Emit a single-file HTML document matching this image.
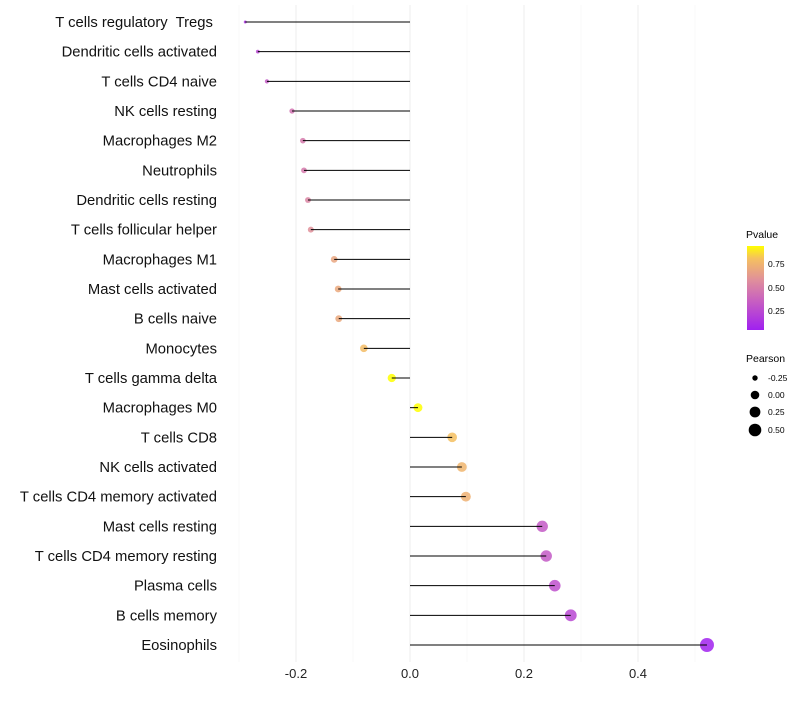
<!DOCTYPE html>
<html><head><meta charset="utf-8"><style>
body{margin:0;background:#fff;font-family:"Liberation Sans",sans-serif}
text{white-space:pre}
</style></head><body>
<svg id="chart" width="800" height="700" xmlns="http://www.w3.org/2000/svg">
<defs><linearGradient id="pg" x1="0" y1="1" x2="0" y2="0">
<stop offset="0" stop-color="#a020f0"/><stop offset="0.35" stop-color="#c860c0"/><stop offset="0.6" stop-color="#e0909a"/><stop offset="0.85" stop-color="#f5c060"/><stop offset="1" stop-color="#ffff00"/></linearGradient></defs>
<g id="grid"></g><g id="points"></g><g id="stems"></g><g id="labels"></g>
<g font-size="10">
<text x="746" y="238" font-size="10.5" fill="#000">Pvalue</text>
<rect x="747" y="246" width="17" height="84" fill="url(#pg)"/>
<text x="768" y="267" font-size="8.5">0.75</text>
<text x="768" y="291" font-size="8.5">0.50</text>
<text x="768" y="314" font-size="8.5">0.25</text>
<text x="746" y="362" font-size="10.5">Pearson</text>
<circle cx="755" cy="378" r="2.7"/><text x="768" y="381" font-size="8.5">-0.25</text>
<circle cx="755" cy="395" r="4.3"/><text x="768" y="398" font-size="8.5">0.00</text>
<circle cx="755" cy="412" r="5.4"/><text x="768" y="415" font-size="8.5">0.25</text>
<circle cx="755" cy="430" r="6.3"/><text x="768" y="433" font-size="8.5">0.50</text>
</g>
</svg>
<script>
const categories=["T cells regulatory  Tregs ","Dendritic cells activated","T cells CD4 naive","NK cells resting","Macrophages M2","Neutrophils","Dendritic cells resting","T cells follicular helper","Macrophages M1","Mast cells activated","B cells naive","Monocytes","T cells gamma delta","Macrophages M0","T cells CD8","NK cells activated","T cells CD4 memory activated","Mast cells resting","T cells CD4 memory resting","Plasma cells","B cells memory","Eosinophils"];
const pearson=[-0.289,-0.267,-0.251,-0.207,-0.188,-0.186,-0.179,-0.174,-0.133,-0.126,-0.125,-0.081,-0.032,0.014,0.074,0.091,0.098,0.232,0.239,0.254,0.282,0.521];
const pvalues=[0.12,0.22,0.3,0.42,0.45,0.45,0.5,0.55,0.65,0.66,0.66,0.75,0.92,0.97,0.77,0.72,0.7,0.3,0.3,0.26,0.22,0.04];
const xTicks=[-0.2,0,0.2,0.4];
const xMinor=[-0.3,-0.1,0.1,0.3,0.5];
const NS="http://www.w3.org/2000/svg";
const x=v=>410+v*570;
const y=i=>22+i*(623/21);
const rad=v=>Math.sqrt(Math.max(2.25,2.25+57.7*(v+0.289)));
const stops=[[0,[160,32,240]],[0.35,[200,96,192]],[0.6,[224,144,154]],[0.85,[245,192,96]],[1,[255,255,0]]];
function col(p){const t=Math.max(0,Math.min(1,(p-0.03)/0.87));for(let k=1;k<stops.length;k++){if(t<=stops[k][0]){const a=stops[k-1],b=stops[k],f=(t-a[0])/(b[0]-a[0]);return "rgb("+a[1].map((c,j)=>Math.round(c+(b[1][j]-c)*f)).join(",")+")";}}return "rgb(255,255,0)";}
function mk(t,a,p){const e=document.createElementNS(NS,t);for(const k in a)e.setAttribute(k,a[k]);p.appendChild(e);return e;}
const grid=document.getElementById('grid'),pts=document.getElementById('points'),stems=document.getElementById('stems'),labels=document.getElementById('labels');
xMinor.forEach(v=>{const l=mk('line',{x1:x(v),x2:x(v),y1:5,y2:662,stroke:'#f3f3f3','stroke-width':0.6},grid);

});
xTicks.forEach(v=>{const l=mk('line',{x1:x(v),x2:x(v),y1:5,y2:662,stroke:'#ededed','stroke-width':1},grid);


const t=mk('text',{x:x(v),y:678,'text-anchor':'middle','font-size':13,fill:'#222'},labels);t.textContent=v===0?"0.0":v.toFixed(1);

});
categories.forEach((c,i)=>{
const t=mk('text',{x:217,y:y(i)+5,'text-anchor':'end','font-size':14.8,fill:'#111'},labels);t.textContent=c;


const p=mk('circle',{cx:x(pearson[i]),cy:y(i),r:rad(pearson[i]),fill:col(pvalues[i]),'fill-opacity':0.85},pts);


const l=mk('line',{x1:x(0),x2:x(pearson[i]),y1:y(i),y2:y(i),stroke:'#000','stroke-width':1},stems);


});
</script>
</body></html>
